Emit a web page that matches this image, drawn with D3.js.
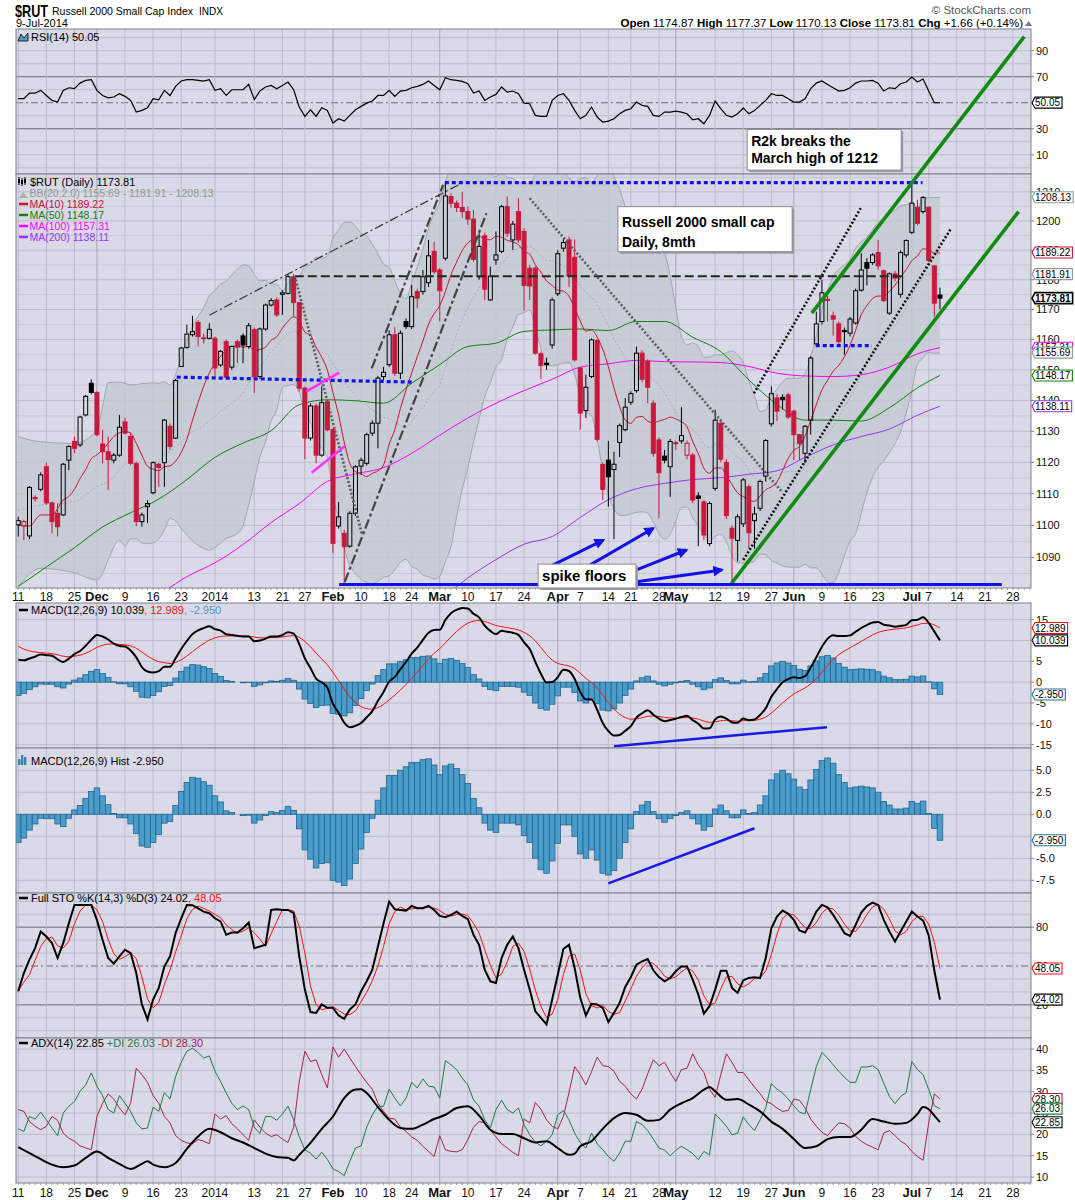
<!DOCTYPE html>
<html>
<head>
<meta charset="utf-8">
<script src="https://cdn.jsdelivr.net/npm/d3@7"></script>
<style>
  body { margin: 0; background: #fff; }
  svg text { font-family: "Liberation Sans", Arial, sans-serif; }
</style>
</head>
<body>
<svg id="chart" width="1075" height="1200"></svg>
<script>
// ---- data (index 0 = 11 Nov 2013, 164 = 9 Jul 2014) ----
const opens = [1100.2,1099.8,1096.7,1108.8,1111.4,1118.6,1107.1,1103.8,1103.3,1120.7,
  1126.7,1125.6,1135.3,1145.6,1142.6,1125.9,1123.4,1120.7,1122.3,1133.0,
  1128.3,1119.7,1101.2,1105.9,1110.3,1119.4,1119.9,1131.6,1127.8,1151.1,
  1157.4,1161.6,1165.7,1160.6,1160.4,1160.4,1151.6,1159.3,1150.9,1159.3,
  1161.2,1157.7,1163.3,1147.8,1163.5,1171.5,1173.2,1175.1,1175.4,1181.0,
  1172.3,1144.0,1127.8,1138.2,1122.3,1139.6,1130.5,1099.8,1097.5,1093.5,
  1103.8,1118.8,1119.7,1129.4,1132.6,1147.8,1151.7,1161.6,1148.9,1166.0,
  1164.3,1176.0,1176.0,1179.0,1189.6,1183.3,1187.3,1208.4,1206.1,1204.6,
  1203.2,1200.6,1181.0,1194.9,1173.2,1186.7,1189.6,1204.9,1193.5,1203.2,
  1196.4,1183.9,1183.9,1155.3,1152.2,1158.2,1175.3,1190.7,1193.5,1187.6,
  1150.6,1136.7,1147.8,1159.7,1119.3,1120.7,1117.7,1126.4,1130.5,1139.4,
  1143.2,1155.5,1152.8,1139.1,1127.2,1122.0,1118.6,1126.3,1126.9,1122.3,
  1122.3,1109.3,1107.4,1094.3,1111.7,1132.6,1120.0,1099.1,1095.3,1100.5,
  1112.2,1101.5,1105.4,1115.6,1132.4,1140.8,1141.0,1141.8,1136.5,1128.9,
  1122.9,1133.6,1158.6,1166.0,1173.4,1167.9,1165.2,1163.0,1162.1,1165.5,
  1176.5,1185.8,1185.8,1189.2,1183.0,1168.8,1182.0,1175.1,1188.4,1196.1,
  1204.7,1203.2,1204.7,1184.7,1174.87];
const highs = [1102.7,1101.8,1112.4,1109.5,1116.8,1119.9,1107.5,1106.9,1119.8,1125.5,
  1128.3,1135.0,1141.8,1146.9,1143.0,1130.5,1128.3,1123.0,1135.3,1134.3,
  1129.4,1120.0,1104.0,1108.0,1120.3,1119.9,1134.0,1132.5,1147.0,1157.5,
  1164.9,1167.9,1166.5,1162.0,1165.4,1161.0,1156.5,1160.0,1158.0,1160.0,
  1162.0,1165.5,1164.0,1164.0,1172.0,1173.8,1174.0,1176.5,1182.0,1182.0,
  1172.5,1144.5,1139.0,1139.0,1144.6,1140.0,1131.0,1107.4,1098.6,1104.5,
  1119.1,1121.5,1129.5,1133.5,1148.0,1151.0,1163.0,1164.3,1163.0,1167.0,
  1178.3,1177.0,1183.3,1193.5,1192.9,1184.0,1212.8,1209.5,1207.0,1210.0,
  1205.0,1203.8,1195.8,1196.0,1184.4,1196.4,1205.5,1208.4,1200.0,1207.8,
  1197.5,1185.0,1184.5,1156.0,1154.0,1174.0,1190.0,1194.1,1194.6,1193.7,
  1151.0,1148.4,1160.4,1160.2,1120.0,1126.9,1123.4,1132.5,1140.8,1143.0,
  1157.7,1156.5,1153.5,1140.0,1128.0,1124.0,1127.5,1127.0,1137.8,1127.0,
  1123.0,1110.5,1108.0,1107.5,1137.0,1133.5,1121.0,1100.0,1103.5,1115.0,
  1113.0,1105.9,1114.5,1127.5,1144.6,1142.0,1142.0,1142.5,1137.0,1129.0,
  1132.0,1154.5,1169.3,1179.9,1174.5,1169.3,1166.0,1164.0,1167.5,1177.0,
  1189.0,1187.3,1189.0,1193.5,1183.5,1182.5,1183.0,1190.0,1193.7,1213.0,
  1207.3,1208.6,1205.0,1185.0,1177.37];
const lows = [1096.5,1095.4,1095.7,1107.5,1110.8,1106.5,1097.5,1096.5,1103.0,1117.5,
  1122.9,1125.0,1134.8,1142.0,1128.3,1119.7,1111.2,1119.7,1121.8,1129.0,
  1119.0,1099.8,1099.6,1100.7,1109.8,1112.2,1112.2,1124.0,1127.5,1150.9,
  1157.0,1161.0,1157.7,1158.7,1160.0,1147.3,1151.0,1147.0,1150.0,1152.2,
  1152.2,1157.0,1142.4,1147.0,1163.0,1171.0,1167.5,1168.2,1175.0,1167.7,
  1143.0,1121.0,1127.0,1119.7,1121.8,1130.0,1091.3,1099.0,1082.0,1093.0,
  1103.0,1116.0,1119.0,1128.5,1124.5,1146.5,1151.0,1148.0,1147.0,1163.5,
  1163.5,1170.4,1175.0,1177.6,1182.0,1166.0,1186.5,1204.5,1203.0,1201.0,
  1198.6,1186.1,1180.0,1173.2,1173.0,1185.0,1189.0,1194.5,1190.1,1192.5,
  1169.6,1173.2,1155.0,1146.9,1150.0,1157.0,1174.5,1189.5,1177.6,1152.8,
  1130.5,1134.3,1147.3,1126.7,1108.0,1105.9,1095.7,1121.7,1130.0,1138.5,
  1142.5,1146.0,1139.1,1121.7,1102.2,1119.7,1109.0,1124.0,1126.0,1121.0,
  1107.0,1093.5,1095.4,1093.5,1111.0,1120.0,1102.0,1082.0,1088.7,1099.5,
  1092.7,1092.7,1104.5,1113.9,1131.5,1133.3,1137.0,1134.0,1120.7,1120.7,
  1119.7,1128.9,1158.0,1165.0,1166.0,1161.3,1157.7,1155.0,1161.0,1165.0,
  1176.0,1178.1,1185.0,1183.3,1172.5,1168.2,1179.5,1174.0,1187.5,1195.5,
  1198.5,1202.5,1186.0,1167.7,1170.13];
const closes = [1101.5,1101.2,1112.0,1108.4,1116.0,1107.1,1101.2,1099.6,1119.4,1125.1,
  1124.5,1134.6,1141.3,1142.6,1128.9,1123.4,1120.9,1122.3,1131.3,1129.4,
  1119.7,1101.2,1103.3,1106.9,1119.9,1118.4,1133.6,1125.1,1146.5,1157.2,
  1161.8,1162.6,1161.0,1160.3,1163.4,1150.6,1156.1,1147.6,1157.7,1157.5,
  1158.2,1164.6,1147.8,1163.5,1171.5,1173.0,1168.2,1175.6,1181.0,1172.3,
  1144.0,1127.8,1138.2,1122.3,1139.3,1130.5,1094.4,1102.7,1093.3,1103.8,
  1118.6,1120.7,1128.9,1132.6,1147.3,1149.2,1161.6,1148.9,1162.1,1164.3,
  1174.3,1173.8,1181.0,1188.1,1182.7,1176.3,1208.6,1206.1,1204.6,1203.2,
  1200.6,1186.9,1191.3,1176.8,1181.2,1188.4,1204.9,1195.8,1198.9,1193.5,
  1178.1,1177.9,1155.5,1151.4,1151.7,1173.2,1188.8,1192.6,1181.2,1153.3,
  1135.9,1144.3,1159.9,1127.4,1111.4,1115.4,1119.4,1131.8,1137.8,1142.2,
  1155.5,1146.9,1144.3,1122.9,1116.7,1120.7,1126.7,1126.0,1128.6,1126.1,
  1108.0,1108.5,1097.0,1106.9,1133.6,1121.0,1103.1,1096.0,1102.7,1114.4,
  1097.7,1103.6,1113.9,1127.0,1142.2,1136.5,1140.2,1134.6,1128.9,1126.0,
  1131.6,1153.9,1165.2,1175.6,1173.0,1166.8,1159.3,1162.6,1166.8,1176.3,
  1183.3,1183.9,1188.4,1184.7,1173.0,1182.0,1180.5,1189.2,1193.3,1206.1,
  1199.2,1208.1,1186.5,1172.15,1173.81];

// moving averages / bands read at sample points where the chart's history is not shown
const ma10Head = [[0,1100.1],[2,1099.8],[4,1103.3],[6,1103.3],[8,1108.0]];
const bbHeadIdx = [0,4,10,14,15,16,18];
const bbHeadUpper = [1128.2,1126.6,1126.1,1130.4,1138.0,1145.8,1146.0];
const bbHeadMid = [1104.8,1106.4,1107.5,1112.2,1113.0,1113.8,1117.5];
const bbHeadLower = [1080.9,1086.6,1085.2,1083.0,1085.0,1089.2,1095.4];
const ma50 = [[0,1081.0],[5,1087.0],[10,1093.0],[15,1099.5],[20,1104.0],[25,1108.3],[30,1114.5],[35,1121.6],
  [40,1126.2],[45,1130.2],[50,1138.6],[55,1140.2],[60,1139.9],[65,1139.1],[70,1145.6],[75,1151.7],[80,1157.7],
  [85,1158.8],[90,1162.7],[95,1163.2],[100,1163.5],[105,1163.0],[110,1166.0],[115,1166.0],[120,1160.8],
  [125,1156.0],[130,1146.7],[135,1138.7],[140,1133.6],[145,1133.6],[150,1133.3],[155,1137.6],[160,1144.1],[164,1148.17]];
const ma100 = [[26,1079.5],[30,1084.0],[35,1088.3],[40,1094.0],[45,1100.9],[50,1106.9],[55,1113.9],[60,1116.3],
  [65,1118.3],[70,1122.9],[75,1128.7],[80,1134.3],[85,1139.1],[90,1143.2],[95,1146.9],[100,1150.9],[105,1152.0],
  [110,1153.1],[115,1152.7],[120,1152.6],[125,1152.4],[130,1151.1],[135,1148.9],[140,1148.0],[145,1147.8],
  [150,1148.4],[155,1150.9],[160,1155.3],[164,1157.31]];
const ma200 = [[77,1079.5],[80,1083.6],[85,1089.3],[90,1094.1],[95,1096.5],[100,1102.5],[105,1108.1],[110,1111.6],
  [115,1113.3],[120,1114.5],[125,1115.1],[130,1116.2],[135,1117.3],[140,1121.6],[145,1125.6],[150,1128.3],
  [155,1130.7],[160,1135.2],[164,1138.11]];

const rsi = [53.1,53.1,57.4,57.4,59.5,55.6,51.8,50.5,59.5,61.5,
  60.8,65.1,67.2,67.7,59.5,55.6,53.8,54.4,56.9,54.9,
  51.8,42.8,44.1,46.2,53.1,52.3,59.5,55.6,62.6,66.7,
  67.7,67.7,67.2,66.7,67.7,59.5,60.8,55.6,60.0,60.0,
  60.0,64.1,52.3,59.0,62.1,63.3,60.8,63.3,65.9,60.0,
  46.7,39.5,44.6,39.5,46.2,44.1,34.4,37.7,35.9,40.3,
  44.6,47.2,49.7,51.3,55.6,55.6,59.5,54.9,59.0,59.5,
  61.5,62.6,64.1,66.7,63.3,60.0,69.2,67.7,67.2,66.4,
  64.6,57.4,59.0,51.8,54.4,56.4,62.1,58.2,59.0,56.9,
  49.7,49.2,40.3,39.5,39.5,51.8,55.6,56.9,51.8,44.1,
  37.7,40.3,46.7,39.0,35.1,35.9,37.7,41.5,44.1,45.4,
  50.5,48.0,47.2,40.3,39.5,42.8,42.8,43.6,42.8,41.5,
  36.9,37.7,33.8,40.3,51.3,45.4,40.3,39.0,41.5,45.9,
  41.5,44.1,48.0,51.8,56.9,55.6,55.6,53.1,50.5,50.5,
  53.1,60.8,65.1,66.7,64.1,61.5,59.0,59.5,61.5,65.1,
  66.7,66.7,67.2,65.1,59.0,61.5,60.8,64.6,65.9,69.7,
  65.9,68.2,59.0,50.0,50.05];

const macdHist = [-3.2,-2.7,-1.8,-1.1,-0.45,-0.5,-0.5,-1.1,-1.4,-0.45,
  0.5,1.0,1.8,2.6,3.0,2.1,1.1,0.1,-0.4,-0.4,
  -1.1,-2.2,-3.6,-3.75,-3.2,-2.3,-1.0,-0.8,1.0,2.6,
  3.6,4.2,4.1,3.7,3.3,2.1,1.4,0.4,0.2,0.0,
  -0.15,-0.1,-1.0,-0.65,-0.15,0.3,0.2,0.45,0.9,0.45,
  -1.65,-4.05,-5.1,-6.1,-5.6,-5.5,-7.5,-7.7,-8.1,-7.35,
  -5.6,-3.95,-2.05,-0.45,1.6,3.0,4.4,4.4,5.0,5.4,
  5.9,5.9,6.2,6.3,5.6,4.5,5.5,5.7,5.2,4.5,
  3.5,1.8,0.75,-1.0,-1.8,-2.05,-1.0,-1.0,-1.0,-1.2,
  -2.4,-3.2,-5.0,-6.3,-6.7,-5.3,-3.3,-1.2,-1.2,-2.5,
  -4.5,-5.0,-4.05,-5.2,-6.7,-6.9,-6.4,-5.0,-3.2,-1.65,
  0.3,1.05,1.45,0.3,-0.5,-0.9,-0.5,-0.15,0.2,0.4,
  -0.5,-1.1,-1.8,-1.4,0.6,1.05,0.4,-0.4,-0.4,0.5,
  0.1,0.2,1.05,2.1,3.9,4.6,5.0,4.6,4.0,3.1,
  2.8,3.9,5.1,6.1,6.4,5.8,4.5,3.6,3.0,3.1,
  3.2,3.1,3.0,2.5,1.45,1.05,0.6,0.6,0.7,1.45,
  1.25,1.5,0.1,-1.6,-2.95];
const macdSignalLast = 12.989;

const stoK = [30.5,44.6,54.9,63.8,76.7,72.8,67.7,56.2,67.7,83.1,
  97.2,97.2,97.2,97.2,85.6,70.3,56.2,51.8,57.4,62.6,
  60.0,44.6,20.3,8.7,24.1,33.1,49.7,57.4,75.4,86.9,
  97.2,97.0,94.6,92.0,90.8,86.9,84.4,74.1,75.9,75.9,
  79.2,83.6,63.8,65.1,66.4,93.3,93.8,93.3,93.3,90.8,
  57.4,31.8,14.4,13.8,20.3,17.7,17.7,11.8,9.2,16.4,
  20.3,30.5,38.2,47.2,65.1,83.1,99.7,93.8,93.3,92.8,
  96.4,94.6,94.6,96.4,93.3,88.7,87.7,89.5,92.0,88.7,
  86.2,74.1,66.4,47.2,38.2,36.9,56.2,66.4,72.8,63.8,
  47.2,31.8,15.1,10.0,4.9,24.1,43.3,63.1,66.4,48.5,
  25.4,11.8,20.8,20.3,17.7,6.7,13.8,21.5,33.8,41.5,
  51.0,53.6,55.4,46.7,41.5,38.2,40.8,45.9,49.7,49.7,
  39.5,28.0,13.3,19.0,31.8,46.4,46.4,33.1,29.2,39.0,
  40.8,41.3,40.8,56.2,79.2,88.2,92.8,90.3,85.6,77.4,
  75.9,83.1,92.0,97.2,95.4,89.5,82.6,75.4,73.3,81.8,
  91.3,96.4,99.0,97.2,85.6,76.7,69.0,76.7,84.4,92.0,
  88.2,85.1,73.6,46.5,24.02];

const adx = [[0,17.0],[2,15.6],[4,14.2],[6,12.9],[8,12.3],[10,12.7],[12,14.5],[14,16.0],[16,14.5],[18,13.1],
  [20,11.9],[22,13.1],[23,13.7],[24,12.9],[26,12.3],[28,13.3],[30,16.6],[32,19.5],[34,21.3],[36,20.5],
  [38,19.1],[40,18.1],[42,16.8],[44,15.5],[46,14.7],[48,14.5],[49,13.9],[50,15.2],[52,18.0],[54,21.3],
  [56,24.2],[58,28.5],[60,30.5],[61,30.6],[62,29.7],[64,26.4],[66,23.4],[68,21.5],[70,21.3],[72,22.3],
  [74,23.6],[76,24.6],[78,26.2],[80,26.6],[82,24.4],[84,21.1],[86,20.1],[88,20.1],[90,19.1],[92,18.1],
  [94,18.4],[96,16.8],[98,15.2],[99,15.5],[100,17.2],[102,18.4],[104,21.3],[106,23.8],[108,25.0],[110,24.6],
  [112,23.2],[114,23.4],[116,25.8],[118,27.3],[120,28.5],[122,30.5],[123,31.1],[124,30.1],[126,28.1],[128,28.3],
  [130,27.0],[132,25.4],[134,23.0],[136,21.3],[138,18.9],[140,16.8],[142,17.2],[144,18.9],[146,19.4],[148,19.4],
  [150,21.1],[152,23.6],[154,23.0],[156,22.5],[158,22.7],[160,24.8],[161,26.4],[162,25.9],[163,24.4],[164,22.85]];
const plusDI = [21.3,20.7,24.2,23.6,25.2,23.4,21.5,19.7,25.0,26.6,
  27.7,30.1,31.6,34.4,31.3,29.1,25.8,25.0,29.1,27.3,
  25.4,22.7,21.3,21.5,26.4,25.4,29.8,28.3,33.6,36.9,
  39.5,40.2,39.2,37.9,38.4,34.8,32.4,29.7,27.3,25.8,
  26.7,25.8,21.7,20.2,24.2,24.2,23.3,24.8,26.6,23.4,
  19.5,16.4,15.6,14.2,15.8,14.1,11.9,11.3,10.3,13.7,
  16.8,17.3,21.7,24.6,26.6,26.6,30.6,28.5,26.7,28.5,
  32.2,30.9,33.0,31.3,31.1,28.5,37.3,36.3,35.2,33.2,
  31.6,28.1,26.6,23.4,21.5,25.8,28.0,25.8,25.0,26.2,
  22.3,19.9,18.2,17.3,18.4,19.9,24.6,25.6,23.4,20.3,
  18.1,16.8,20.3,17.8,16.4,14.8,13.7,15.6,18.4,18.4,
  23.0,22.3,20.9,18.9,16.8,16.3,15.0,16.3,17.2,16.4,
  15.5,14.1,16.0,15.2,24.8,23.4,21.9,19.9,20.3,24.1,
  22.3,20.9,23.4,26.2,31.9,30.6,29.7,28.3,26.7,25.2,
  24.8,30.5,35.9,39.2,37.9,36.3,34.8,33.4,32.2,32.2,
  35.8,35.8,36.1,35.2,32.0,28.9,27.2,28.9,29.8,37.1,
  35.2,34.0,30.5,26.7,26.03];
const minusDI = [25.8,25.4,23.0,21.9,21.1,21.9,24.2,23.3,20.3,19.1,
  18.4,17.3,16.8,16.4,24.2,27.3,29.5,28.3,26.2,24.6,
  27.3,35.5,34.0,32.2,29.1,27.3,24.2,22.7,19.7,18.6,
  18.0,17.8,18.8,18.4,17.8,24.8,23.6,24.4,22.5,21.3,
  19.9,18.6,23.4,21.7,20.3,19.5,19.9,18.9,18.1,21.7,
  32.4,39.5,37.1,37.5,34.0,30.9,40.5,38.1,40.0,37.9,
  35.9,34.0,32.2,30.6,27.3,25.4,23.8,23.6,21.7,20.7,
  19.4,18.6,17.2,16.0,14.8,19.7,16.4,16.0,15.9,16.4,
  18.8,21.7,23.0,22.7,21.1,19.4,17.8,16.8,15.8,15.0,
  23.6,22.7,27.5,25.9,23.4,21.9,21.3,24.2,29.8,35.9,
  34.0,31.6,34.7,38.1,36.1,35.9,34.8,32.4,31.3,29.5,
  28.3,30.6,34.2,37.5,36.1,36.9,34.5,32.4,35.2,35.5,
  38.9,36.3,34.5,30.6,28.7,34.0,38.9,36.9,34.5,34.5,
  32.8,31.1,29.5,27.7,27.2,26.2,25.4,25.6,28.3,28.0,
  26.2,23.6,21.9,20.5,19.7,21.3,22.7,22.5,21.5,19.5,
  18.4,17.6,17.0,16.4,20.3,20.9,19.7,18.4,17.6,16.0,
  14.8,13.9,22.7,29.5,28.30];

// x-axis ticks (bar index) and labels
const tickIdx = [0,5,10,14,19,24,29,35,42,47,51,56,61,66,70,75,80,85,90,96,100,105,109,114,117,124,129,134,138,143,148,153,159,162,167,172,177];
const tickLabels = ["11","18","25","Dec","9","16","23","2014","13","21","27","Feb","10","18","24","Mar","10","17","24","Apr","7","14","21","28","May","12","19","27","Jun","9","16","23","Jul","7","14","21","28"];

// hand-drawn annotations: [index1, value1, index2, value2]
const blueDotLines = [[75.9,1213.2,160.9,1213.2],[28.2,1147.6,70.0,1146.0],[141.9,1158.0,151.9,1158.0]];
const blackDashLines = [[49.2,1181.2,157.8,1181.2]];
const dashDotLines = [[34.0,1168.1,78.3,1212.4]];
const steepDashDotLines = [[58.1,1082.4,83.3,1202.6],[62.9,1150.5,75.6,1212.4]];
const greyDotLines = [[49.2,1181.3,61.2,1097.0],[91.0,1207.8,135.9,1110.6]];
const blackDotLines = [[130.9,1142.3,149.9,1204.4],[129.0,1089.2,165.9,1197.2]];
const greenLines = [[126.9,1081.9,178.0,1203.2],[141.2,1168.8,179.0,1264.9]];
const magentaLines = [[51.2,1142.9,57.1,1149.1],[52.2,1116.7,58.1,1125.2]];
const floorLine = [57.1,1081.6,175.0,1081.6];
const floorArrows = [[95.1,1087.6,104.1,1095.4],[101.7,1087.6,113.0,1099.1],[110.0,1086.1,118.9,1092.3],[110.0,1082.4,125.2,1086.1]];
const macdTrend = [106.0,-15.4,143.9,-10.8];
const histTrend = [105.0,-7.84,131.0,-1.59];

// ---- layout ----
const N = closes.length;
const svg = d3.select("#chart");
const left = 16, right = 1031;
const x = d3.scaleLinear().domain([-0.4, 180.2]).range([left, right]);
const step = x(1) - x(0);

const P = {
  rsi: { top: 29, bottom: 174 },
  price: { top: 174, bottom: 588 },
  macd: { top: 603, bottom: 748 },
  hist: { top: 748, bottom: 893 },
  sto: { top: 893, bottom: 1038 },
  adx: { top: 1038, bottom: 1183 }
};
const yRsi = d3.scaleLinear().domain([-4.8, 106.7]).range([P.rsi.bottom, P.rsi.top]);
const yPrice = d3.scaleLog().domain([1080.5, 1216.2]).range([P.price.bottom, P.price.top]);
const yMacd = d3.scaleLinear().domain([-15.8, 19.0]).range([P.macd.bottom, P.macd.top]);
const yHist = d3.scaleLinear().domain([-8.94, 7.53]).range([P.hist.bottom, P.hist.top]);
const ySto = d3.scaleLinear().domain([-5.6, 106.4]).range([P.sto.bottom, P.sto.top]);
const yAdx = d3.scaleLinear().domain([8.6, 42.6]).range([P.adx.bottom, P.adx.top]);

const BG = "#d9d9e7", GRID = "#bcbccc", GRID_MAJOR = "#a6a6b8", FRAME = "#7e7e8e";
const RED = "#c8183c", UP = "#000";
const defs = svg.append("defs");

function panel(key, hLines) {
  const p = P[key];
  defs.append("clipPath").attr("id", "clip-" + key)
    .append("rect").attr("x", left).attr("y", p.top).attr("width", right - left).attr("height", p.bottom - p.top);
  const g = svg.append("g");
  g.append("rect").attr("x", left).attr("y", p.top).attr("width", right - left).attr("height", p.bottom - p.top).attr("fill", BG);
  hLines.forEach(h => {
    g.append("line").attr("x1", left).attr("x2", right).attr("y1", h.y).attr("y2", h.y)
      .attr("stroke", h.color || GRID).attr("stroke-width", h.w || 1)
      .attr("stroke-dasharray", h.dash || null);
  });
  tickIdx.forEach((t, k) => {
    const major = isNaN(+tickLabels[k]);
    g.append("line").attr("x1", x(t)).attr("x2", x(t)).attr("y1", p.top).attr("y2", p.bottom)
      .attr("stroke", major ? GRID_MAJOR : GRID).attr("stroke-width", 1);
  });
  return svg.append("g").attr("clip-path", `url(#clip-${key})`);
}
function frame(key) {
  const p = P[key];
  svg.append("rect").attr("x", left).attr("y", p.top).attr("width", right - left).attr("height", p.bottom - p.top)
    .attr("fill", "none").attr("stroke", FRAME).attr("stroke-width", 1);
}
function axisLabels(items, y, fmt) {
  items.forEach(v => {
    svg.append("line").attr("x1", right).attr("x2", right + 3).attr("y1", y(v)).attr("y2", y(v)).attr("stroke", FRAME);
    svg.append("text").attr("x", 1036).attr("y", y(v)).attr("dy", "0.35em")
      .attr("font-size", 11).attr("fill", "#111").text(fmt ? fmt(v) : v);
  });
}
function valueBox(yv, label, color, bold) {
  const g = svg.append("g");
  const t = g.append("text").attr("x", 1035).attr("y", yv).attr("dy", "0.36em")
    .attr("font-size", 10).attr("font-weight", bold ? "bold" : null).attr("fill", "#000").text(label);
  const w = t.node().getComputedTextLength();
  const x0 = right + 1, xr = 1035 + w + 2;
  g.insert("path", "text")
    .attr("d", `M${x0},${yv} L${x0 + 3},${yv - 5.5} L${xr},${yv - 5.5} L${xr},${yv + 5.5} L${x0 + 3},${yv + 5.5} Z`)
    .attr("fill", "#fff").attr("stroke", color).attr("stroke-width", bold ? 1.6 : 1.1);
}
function xAxisText(y) {
  tickIdx.forEach((t, k) => {
    const major = isNaN(+tickLabels[k]);
    svg.append("text").attr("x", x(t)).attr("y", y).attr("text-anchor", "middle")
      .attr("font-size", major ? 13 : 12).attr("font-weight", major ? "bold" : null)
      .attr("fill", "#111").text(tickLabels[k]);
  });
}
function dayTicks(y) {
  d3.range(0, 181).forEach(i => {
    svg.append("line").attr("x1", x(i)).attr("x2", x(i)).attr("y1", y).attr("y2", y + 2).attr("stroke", "#999");
  });
}
function seg(g, a, y, stroke, width, dash) {
  return g.append("line").attr("x1", x(a[0])).attr("y1", y(a[1])).attr("x2", x(a[2])).attr("y2", y(a[3]))
    .attr("stroke", stroke).attr("stroke-width", width).attr("stroke-dasharray", dash || null);
}

// ---- header ----
svg.append("text").attr("x", 15).attr("y", 17).attr("font-size", 17).attr("font-weight", "bold")
  .attr("textLength", 33).attr("lengthAdjust", "spacingAndGlyphs").text("$RUT");
svg.append("text").attr("x", 52).attr("y", 15).attr("font-size", 11.5)
  .attr("textLength", 141).attr("lengthAdjust", "spacingAndGlyphs").text("Russell 2000 Small Cap Index");
svg.append("text").attr("x", 199).attr("y", 15).attr("font-size", 10).text("INDX");
svg.append("text").attr("x", 16).attr("y", 27).attr("font-size", 11).text("9-Jul-2014");
svg.append("text").attr("x", 1031).attr("y", 14).attr("text-anchor", "end").attr("font-size", 11.5)
  .attr("fill", "#555").text("\u00A9 StockCharts.com");
const hdr = svg.append("text").attr("x", 1023).attr("y", 27).attr("text-anchor", "end").attr("font-size", 11.5);
[["Open", " 1174.87  "], ["High", " 1177.37  "], ["Low", " 1170.13  "], ["Close", " 1173.81  "], ["Chg", " +1.66 (+0.14%)"]]
  .forEach(([k, v]) => { hdr.append("tspan").attr("font-weight", "bold").text(k); hdr.append("tspan").text(v); });
svg.append("path").attr("d", "M1025,26 L1028.5,21 L1032,26 Z").attr("fill", "#777");

// ---- RSI panel ----
const rsiBody = panel("rsi", [
  ...[0, 10, 20, 40, 60, 80, 90, 100].map(v => ({ y: yRsi(v) })),
  { y: yRsi(70), color: "#6a6a78" }, { y: yRsi(30), color: "#6a6a78" },
  { y: yRsi(50), color: "#6a6a78", dash: "7,3,2,3" }
]);
rsiBody.append("path").datum(rsi)
  .attr("d", d3.line().x((d, i) => x(i)).y(d => yRsi(d)))
  .attr("fill", "none").attr("stroke", "#000").attr("stroke-width", 1.2);
frame("rsi");
svg.append("path").attr("d", "M18,41 L21,34 L24,38 L28,33 L28,41 Z").attr("fill", "#4d9ccc").attr("stroke", "#000").attr("stroke-width", 0.8);
svg.append("text").attr("x", 31).attr("y", 41).attr("font-size", 11).text("RSI(14) 50.05");
axisLabels([90, 70, 30, 10], yRsi);
valueBox(yRsi(50.05), "50.05", "#000");

// ---- price panel ----
const priceTicks = d3.range(1090, 1211, 10);
const priceBody = panel("price", [
  ...d3.range(1085, 1216, 10).map(v => ({ y: yPrice(v), color: "#c8c8d6" })),
  ...priceTicks.map(v => ({ y: yPrice(v) }))
]);

// Bollinger bands: read head + 20-day computation from the closes
const bb = bbHeadIdx.map((t, k) => ({ i: t, u: bbHeadUpper[k], m: bbHeadMid[k], l: bbHeadLower[k] }))
  .concat(d3.range(19, N).map(i => {
    const w = closes.slice(i - 19, i + 1);
    const m = d3.mean(w);
    const sd = Math.sqrt(d3.mean(w, v => (v - m) * (v - m)));
    return { i, u: m + 2 * sd, m, l: m - 2 * sd };
  }));
const curve = d3.curveMonotoneX;
priceBody.append("path").datum(bb)
  .attr("d", d3.area().curve(curve).x(d => x(d.i)).y0(d => yPrice(d.l)).y1(d => yPrice(d.u)))
  .attr("fill", "#c3c9d2").attr("fill-opacity", 0.85);
["u", "l"].forEach(k => priceBody.append("path").datum(bb)
  .attr("d", d3.line().curve(curve).x(d => x(d.i)).y(d => yPrice(d[k])))
  .attr("fill", "none").attr("stroke", "#a2a6ae").attr("stroke-width", 1));
priceBody.append("path").datum(bb)
  .attr("d", d3.line().curve(curve).x(d => x(d.i)).y(d => yPrice(d.m)))
  .attr("fill", "none").attr("stroke", "#aaaab4").attr("stroke-width", 1).attr("stroke-dasharray", "2,2");

const ma10 = ma10Head.concat(d3.range(9, N).map(i => [i, d3.mean(closes.slice(i - 9, i + 1))]));
const maLine = d3.line().curve(curve).x(d => x(d[0])).y(d => yPrice(d[1]));
[[ma200, "#9933ff"], [ma100, "#ff00ff"], [ma50, "#108010"], [ma10, "#cc1133"]].forEach(([s, c]) =>
  priceBody.append("path").datum(s).attr("d", maLine).attr("fill", "none").attr("stroke", c).attr("stroke-width", 1));

// candles: filled when close < open, red when close < previous close
const bars = d3.range(N).map(i => ({
  i, o: opens[i], h: highs[i], l: lows[i], c: closes[i], prev: i ? closes[i - 1] : opens[i]
}));
const cg = priceBody.append("g");
bars.forEach(d => {
  const col = d.c < d.prev ? RED : UP;
  const top = Math.max(d.o, d.c), bot = Math.min(d.o, d.c);
  const cx = x(d.i);
  cg.append("line").attr("x1", cx).attr("x2", cx).attr("y1", yPrice(d.h)).attr("y2", yPrice(top)).attr("stroke", col);
  cg.append("line").attr("x1", cx).attr("x2", cx).attr("y1", yPrice(bot)).attr("y2", yPrice(d.l)).attr("stroke", col);
  const yt = yPrice(top), hgt = Math.max(1, yPrice(bot) - yt);
  cg.append("rect").attr("x", cx - 2).attr("y", yt).attr("width", 4).attr("height", hgt)
    .attr("fill", d.c < d.o ? col : "none").attr("stroke", col).attr("stroke-width", 1);
});
frame("price");

// price annotations (not clipped: the upper channel line runs into the RSI pane)
const ann = svg.append("g");
blueDotLines.forEach(a => seg(ann, a, yPrice, "#1010f0", 3.2, "4,3"));
blackDashLines.forEach(a => seg(ann, a, yPrice, "#1c2a1c", 2, "9,4"));
dashDotLines.forEach(a => seg(ann, a, yPrice, "#333", 1.2, "9,3,2,3"));
steepDashDotLines.forEach(a => seg(ann, a, yPrice, "#444", 2.2, "10,3,3,3"));
greyDotLines.forEach(a => seg(ann, a, yPrice, "#5a5a5a", 2.6, "2,2"));
blackDotLines.forEach(a => seg(ann, a, yPrice, "#111", 2.6, "2,2"));
magentaLines.forEach(a => seg(ann, a, yPrice, "#ff33ff", 2.6));
greenLines.forEach(a => seg(ann, a, yPrice, "#108a10", 3.6));
seg(ann, floorLine, yPrice, "#1212e6", 3);
defs.append("marker").attr("id", "arrow").attr("viewBox", "0 0 10 10").attr("refX", 8).attr("refY", 5)
  .attr("markerWidth", 3.6).attr("markerHeight", 3.6).attr("orient", "auto")
  .append("path").attr("d", "M0,0 L10,5 L0,10 Z").attr("fill", "#1212e6");
floorArrows.forEach(a => seg(ann, a, yPrice, "#1212e6", 3).attr("marker-end", "url(#arrow)"));

function noteBox(x0, y0, x1, y1, lines, fs, lineY) {
  svg.append("rect").attr("x", x0 + 2).attr("y", y0 + 2).attr("width", x1 - x0).attr("height", y1 - y0).attr("fill", "#9a9aa4");
  svg.append("rect").attr("x", x0).attr("y", y0).attr("width", x1 - x0).attr("height", y1 - y0)
    .attr("fill", "#fff").attr("stroke", "#8a8a94").attr("stroke-width", 1);
  lines.forEach((t, k) => svg.append("text").attr("x", x0 + 4).attr("y", lineY[k]).attr("font-size", fs)
    .attr("font-weight", "bold").attr("fill", "#000").text(t));
}
noteBox(x(106.7), yPrice(1204.9), x(137.7), yPrice(1189.5), ["Russell 2000 small cap", "Daily, 8mth"], 14,
  [yPrice(1204.9) + 20, yPrice(1204.9) + 40]);
noteBox(x(129.7), yRsi(29.5), x(157.1), yRsi(-1.8), ["R2k breaks the", "March high of 1212"], 14,
  [yRsi(29.5) + 17, yRsi(29.5) + 34]);
noteBox(x(92.5), yPrice(1087.9), x(109.9), P.price.bottom, ["spike floors"], 15, [yPrice(1087.9) + 17]);

// price legend
svg.append("text").attr("x", 30).attr("y", 186).attr("font-size", 11).text("$RUT (Daily) 1173.81");
[[19, 181], [22, 182], [25, 181]].forEach(([cx, cy]) => {
  svg.append("line").attr("x1", cx).attr("x2", cx).attr("y1", cy - 4).attr("y2", cy + 4).attr("stroke", "#000");
  svg.append("rect").attr("x", cx - 1).attr("y", cy - 2).attr("width", 2).attr("height", 4).attr("fill", "#000");
});
svg.append("path").attr("d", "M19,198 L23,192 L28,198 Z").attr("fill", "#a9b2a9");
const legendRows = [
  ["BB(20,2.0) 1155.69 - 1181.91 - 1208.13", "#8c9c8c", 197, null],
  ["MA(10) 1189.22", "#cc1133", 208, "#cc1133"],
  ["MA(50) 1148.17", "#108010", 219, "#108010"],
  ["MA(100) 1157.31", "#ff00ff", 230, "#ff00ff"],
  ["MA(200) 1138.11", "#9933ff", 241, "#9933ff"]
];
legendRows.forEach(([t, c, y, sw]) => {
  if (sw) svg.append("line").attr("x1", 19).attr("x2", 28).attr("y1", y - 4).attr("y2", y - 4).attr("stroke", sw).attr("stroke-width", 2.5);
  svg.append("text").attr("x", 29.5).attr("y", y).attr("font-size", 10.5).attr("fill", c).text(t);
});
axisLabels(priceTicks, yPrice);
valueBox(yPrice(1208.13), "1208.13", "#8c9c94");
valueBox(yPrice(1189.22), "1189.22", "#cc1133");
valueBox(yPrice(1181.91), "1181.91", "#8c9c94");
valueBox(yPrice(1173.81), "1173.81", "#000", true);
valueBox(yPrice(1157.31), "1157.31", "#ff00ff");
valueBox(yPrice(1155.69), "1155.69", "#8c9c94");
valueBox(yPrice(1148.17), "1148.17", "#108010");
valueBox(yPrice(1138.11), "1138.11", "#9933ff");
dayTicks(P.price.bottom);
xAxisText(601);

// ---- MACD: signal is the running EMA(9), so it steps by a quarter of each histogram bar ----
const signal = new Array(N);
signal[N - 1] = macdSignalLast;
for (let i = N - 1; i > 0; i--) signal[i - 1] = signal[i] - 0.25 * macdHist[i];
const macd = macdHist.map((h, i) => signal[i] + h);

const macdBody = panel("macd", [-15, -10, -5, 0, 5, 10, 15].map(v => ({ y: yMacd(v) })));
function histBars(g, y) {
  g.selectAll(null).data(macdHist).join("rect")
    .attr("x", (d, i) => x(i) - step / 2).attr("width", step)
    .attr("y", d => y(Math.max(0, d))).attr("height", d => Math.abs(y(d) - y(0)))
    .attr("fill", "#4a9ccb").attr("stroke", "#22658f").attr("stroke-width", 0.8);
}
histBars(macdBody, yMacd);
macdBody.append("path").datum(signal).attr("d", d3.line().curve(curve).x((d, i) => x(i)).y(d => yMacd(d)))
  .attr("fill", "none").attr("stroke", "#ff1010").attr("stroke-width", 1);
macdBody.append("path").datum(macd).attr("d", d3.line().curve(curve).x((d, i) => x(i)).y(d => yMacd(d)))
  .attr("fill", "none").attr("stroke", "#000").attr("stroke-width", 2);
seg(macdBody, macdTrend, yMacd, "#1a1ae8", 2.5);
frame("macd");
svg.append("line").attr("x1", 19).attr("x2", 28).attr("y1", 610).attr("y2", 610).attr("stroke", "#000").attr("stroke-width", 2.5);
const mt = svg.append("text").attr("x", 31).attr("y", 614).attr("font-size", 11);
mt.append("tspan").text("MACD(12,26,9) 10.039");
mt.append("tspan").attr("fill", "#ff1010").text(", 12.989");
mt.append("tspan").attr("fill", "#4a9ccb").text(", -2.950");
axisLabels([15, 5, 0, -5, -10, -15], yMacd);
valueBox(yMacd(12.989), "12.989", "#ff1010");
valueBox(yMacd(10.039), "10.039", "#000");
valueBox(yMacd(-2.95), "-2.950", "#2a6f96");

// ---- MACD histogram ----
const histBody = panel("hist", [-7.5, -5, -2.5, 0, 2.5, 5].map(v => ({ y: yHist(v) })));
histBars(histBody, yHist);
seg(histBody, histTrend, yHist, "#1a1ae8", 2.5);
frame("hist");
[[18, 759, 6], [21, 755, 10], [24, 757, 8]].forEach(([bx, by, bh]) =>
  svg.append("rect").attr("x", bx).attr("y", by).attr("width", 2.4).attr("height", bh).attr("fill", "#3d7fae"));
svg.append("text").attr("x", 31).attr("y", 765).attr("font-size", 11).text("MACD(12,26,9) Hist -2.950");
axisLabels([5, 2.5, 0, -5, -7.5], yHist, v => v.toFixed(1));
valueBox(yHist(-2.95), "-2.950", "#2a6f96");

// ---- Full stochastics (%D = 3-bar mean of %K) ----
const stoD = stoK.map((v, i) => d3.mean(stoK.slice(Math.max(0, i - 2), i + 1)));
const stoBody = panel("sto", [
  ...[0, 10, 30, 40, 60, 70, 90, 100].map(v => ({ y: ySto(v) })),
  { y: ySto(80), color: "#6a6a78" }, { y: ySto(20), color: "#6a6a78" },
  { y: ySto(50), color: "#6a6a78", dash: "7,3,2,3" }
]);
stoBody.append("path").datum(stoD).attr("d", d3.line().x((d, i) => x(i)).y(d => ySto(d)))
  .attr("fill", "none").attr("stroke", "#ff1010").attr("stroke-width", 1);
stoBody.append("path").datum(stoK).attr("d", d3.line().x((d, i) => x(i)).y(d => ySto(d)))
  .attr("fill", "none").attr("stroke", "#000").attr("stroke-width", 2);
frame("sto");
svg.append("line").attr("x1", 19).attr("x2", 28).attr("y1", 898).attr("y2", 898).attr("stroke", "#000").attr("stroke-width", 2.5);
const st = svg.append("text").attr("x", 31).attr("y", 902).attr("font-size", 11);
st.append("tspan").text("Full STO %K(14,3) %D(3) 24.02");
st.append("tspan").attr("fill", "#ff1010").text(", 48.05");
axisLabels([80, 50, 20], ySto);
valueBox(ySto(48.05), "48.05", "#ff1010");
valueBox(ySto(24.02), "24.02", "#000");

// ---- ADX ----
const adxBody = panel("adx", [10, 15, 20, 25, 30, 35, 40].map(v => ({ y: yAdx(v) })));
adxBody.append("path").datum(minusDI).attr("d", d3.line().x((d, i) => x(i)).y(d => yAdx(d)))
  .attr("fill", "none").attr("stroke", "#a3234c").attr("stroke-width", 1);
adxBody.append("path").datum(plusDI).attr("d", d3.line().x((d, i) => x(i)).y(d => yAdx(d)))
  .attr("fill", "none").attr("stroke", "#1d7a4b").attr("stroke-width", 1);
adxBody.append("path").datum(adx).attr("d", d3.line().curve(curve).x(d => x(d[0])).y(d => yAdx(d[1])))
  .attr("fill", "none").attr("stroke", "#000").attr("stroke-width", 2);
frame("adx");
svg.append("line").attr("x1", 19).attr("x2", 28).attr("y1", 1043).attr("y2", 1043).attr("stroke", "#000").attr("stroke-width", 2.5);
const at = svg.append("text").attr("x", 31).attr("y", 1047).attr("font-size", 11);
at.append("tspan").text("ADX(14) 22.85 ");
at.append("tspan").attr("fill", "#1d7a4b").text("+DI 26.03 ");
at.append("tspan").attr("fill", "#a3234c").text("-DI 28.30");
axisLabels([40, 35, 30, 25, 20, 15, 10], yAdx);
valueBox(yAdx(28.30), "28.30", "#a3234c");
valueBox(yAdx(26.03), "26.03", "#1d7a4b");
valueBox(yAdx(22.85), "22.85", "#000");
dayTicks(P.adx.bottom);
xAxisText(1197);
</script>
</body>
</html>
